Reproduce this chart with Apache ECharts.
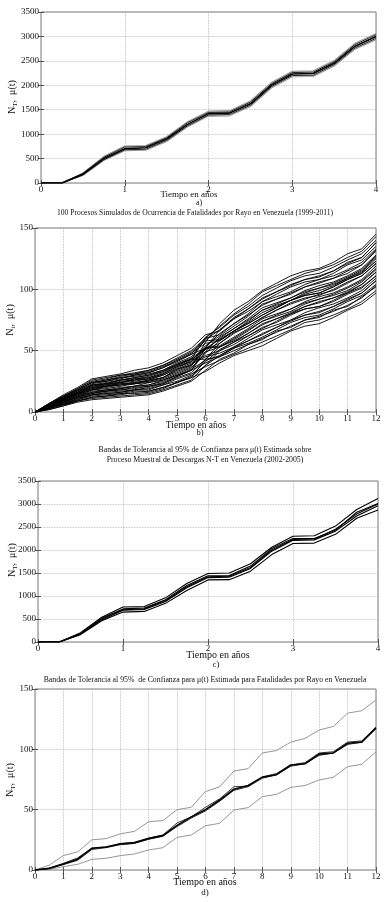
<!DOCTYPE html>
<html>
<head>
<meta charset="utf-8">
<script src="https://cdn.jsdelivr.net/npm/echarts@6/dist/echarts.min.js"></script>
<style>
html, body { margin: 0; padding: 0; background: #fff; }
#chart { width: 387px; height: 902px; }
</style>
</head>
<body>
<div id="chart"></div>
<script>
// tiempo (años) para a) y c): cada 0.25
var tQuarter = [0, 0.25, 0.5, 0.75, 1, 1.25, 1.5, 1.75, 2, 2.25, 2.5, 2.75, 3, 3.25, 3.5, 3.75, 4];
// tiempo (años) para b) y d): cada 0.5
var tHalf = [0, 0.5, 1, 1.5, 2, 2.5, 3, 3.5, 4, 4.5, 5, 5.5, 6, 6.5, 7, 7.5, 8, 8.5, 9, 9.5, 10, 10.5, 11, 11.5, 12];

// a) descargas N-T
var aMean = [0, 0, 180, 500, 700, 720, 900, 1200, 1420, 1430, 1620, 2000, 2230, 2240, 2450, 2800, 3000];
var aHi1  = [0, 0, 195, 525, 735, 745, 925, 1235, 1445, 1455, 1655, 2030, 2260, 2270, 2480, 2835, 3035];
var aLo1  = [0, 0, 165, 475, 680, 690, 870, 1170, 1390, 1400, 1590, 1970, 2200, 2205, 2420, 2765, 2960];
var aHi2  = [0, 0, 205, 545, 755, 765, 945, 1255, 1470, 1480, 1680, 2055, 2285, 2295, 2505, 2860, 3060];
var aLo2  = [0, 0, 155, 460, 660, 670, 850, 1150, 1370, 1375, 1565, 1945, 2175, 2180, 2395, 2740, 2935];

// b) procesos simulados de fatalidades
var simRuns = [
  [0, 2, 5, 8, 10, 11, 12, 13, 14, 17, 21, 25, 34, 43, 48, 55, 59, 66, 69, 75, 77, 83, 86, 94, 102],
  [0, 3, 6, 9, 12, 13, 15, 15, 16, 19, 24, 28, 33, 40, 46, 50, 54, 60, 66, 70, 72, 77, 83, 88, 97],
  [0, 3, 7, 10, 14, 15, 16, 18, 18, 22, 25, 30, 41, 51, 57, 64, 72, 76, 80, 86, 90, 93, 97, 104, 114],
  [0, 4, 8, 12, 15, 17, 18, 19, 21, 23, 29, 34, 40, 45, 52, 56, 61, 67, 73, 77, 79, 84, 90, 95, 104],
  [0, 4, 9, 13, 17, 18, 19, 21, 24, 26, 31, 36, 48, 58, 66, 72, 79, 85, 91, 95, 97, 102, 108, 113, 123],
  [0, 5, 10, 14, 19, 21, 22, 24, 25, 28, 34, 39, 45, 48, 53, 60, 67, 71, 75, 81, 85, 88, 93, 99, 109],
  [0, 5, 10, 15, 20, 22, 25, 26, 27, 31, 37, 41, 54, 62, 70, 78, 88, 92, 96, 102, 106, 109, 113, 120, 131],
  [0, 6, 11, 16, 22, 23, 26, 28, 30, 33, 39, 44, 52, 54, 61, 68, 76, 80, 84, 90, 94, 97, 102, 108, 119],
  [0, 6, 12, 18, 24, 25, 27, 30, 32, 36, 41, 47, 61, 69, 79, 86, 95, 101, 107, 111, 113, 118, 124, 129, 140],
  [0, 7, 13, 19, 25, 27, 30, 31, 34, 38, 43, 49, 58, 59, 66, 74, 83, 87, 91, 97, 101, 104, 109, 115, 126],
  [0, 7, 14, 20, 27, 29, 31, 34, 36, 40, 46, 52, 63, 66, 76, 82, 90, 96, 102, 106, 108, 113, 120, 124, 135],
  [0, 4, 9, 13, 18, 19, 21, 23, 24, 27, 32, 37, 57, 72, 83, 90, 99, 105, 111, 115, 117, 122, 129, 133, 145],
  [0, 5, 10, 15, 19, 21, 23, 24, 26, 30, 35, 40, 46, 50, 57, 62, 68, 74, 80, 84, 86, 91, 97, 102, 111],
  [0, 4, 8, 12, 16, 17, 19, 21, 22, 25, 30, 34, 49, 61, 68, 76, 85, 89, 93, 99, 103, 106, 111, 117, 128],
  [0, 5, 11, 16, 21, 23, 24, 27, 28, 32, 38, 43, 51, 56, 65, 70, 77, 83, 89, 93, 95, 100, 106, 111, 121],
  [0, 3, 7, 11, 14, 16, 17, 18, 20, 23, 28, 32, 43, 53, 59, 66, 74, 78, 82, 88, 92, 95, 99, 106, 116],
  [0, 6, 12, 17, 23, 25, 28, 29, 31, 34, 40, 45, 59, 67, 77, 84, 92, 98, 104, 108, 110, 115, 122, 126, 138],
  [0, 3, 6, 10, 13, 14, 15, 17, 17, 20, 24, 29, 38, 46, 53, 58, 63, 69, 75, 79, 81, 86, 92, 97, 107],
  [0, 4, 10, 15, 18, 21, 23, 23, 26, 28, 35, 38, 53, 64, 72, 80, 90, 94, 98, 104, 108, 111, 116, 122, 133],
  [0, 6, 13, 18, 24, 26, 29, 31, 33, 37, 42, 48, 56, 58, 66, 72, 79, 85, 91, 95, 97, 102, 108, 113, 123],
  [0, 2, 5, 9, 11, 12, 13, 14, 15, 18, 22, 26, 38, 50, 55, 62, 69, 73, 79, 84, 86, 90, 96, 101, 111],
  [0, 3, 6, 9, 12, 13, 14, 16, 17, 20, 24, 28, 43, 56, 64, 70, 77, 83, 88, 92, 96, 99, 105, 111, 121],
  [0, 3, 7, 11, 14, 15, 16, 18, 19, 22, 27, 31, 37, 42, 47, 52, 57, 62, 67, 73, 75, 79, 84, 90, 99],
  [0, 4, 8, 12, 15, 17, 18, 20, 21, 24, 29, 34, 52, 67, 76, 84, 93, 98, 103, 108, 111, 115, 121, 126, 138],
  [0, 4, 8, 13, 16, 18, 20, 21, 22, 26, 30, 35, 42, 46, 52, 58, 64, 69, 74, 79, 82, 86, 91, 97, 107],
  [0, 4, 9, 14, 18, 20, 22, 23, 25, 28, 33, 38, 51, 60, 68, 75, 83, 88, 93, 98, 101, 105, 110, 116, 127],
  [0, 5, 10, 15, 20, 21, 24, 25, 27, 30, 36, 41, 49, 53, 60, 67, 74, 79, 84, 89, 92, 96, 101, 107, 117],
  [0, 5, 11, 16, 22, 23, 26, 27, 29, 33, 38, 43, 60, 70, 80, 88, 98, 103, 108, 113, 116, 120, 126, 131, 143],
  [0, 6, 11, 17, 22, 24, 26, 28, 30, 34, 39, 43, 43, 45, 50, 55, 60, 65, 70, 75, 78, 82, 87, 93, 103],
  [0, 6, 12, 18, 24, 26, 28, 30, 32, 36, 42, 47, 52, 53, 58, 64, 71, 76, 81, 86, 89, 93, 98, 104, 114],
  [0, 7, 13, 19, 26, 28, 30, 32, 34, 38, 44, 50, 60, 63, 72, 79, 87, 92, 97, 102, 105, 109, 115, 120, 132],
  [0, 5, 11, 15, 21, 22, 24, 26, 28, 31, 37, 42, 52, 59, 66, 73, 81, 86, 91, 96, 99, 103, 109, 114, 125]
];

// c) bandas de tolerancia para descargas N-T
var cUpper = [0, 0, 200, 540, 760, 770, 960, 1270, 1490, 1500, 1700, 2060, 2300, 2310, 2520, 2880, 3120];
var cEmp   = [0, 0, 170, 520, 720, 740, 920, 1230, 1440, 1445, 1650, 2030, 2250, 2250, 2430, 2820, 3010];
var cMean  = [0, 0, 180, 500, 700, 720, 900, 1200, 1420, 1430, 1620, 2000, 2230, 2240, 2450, 2780, 3000];
var cMid   = [0, 0, 175, 480, 690, 705, 880, 1180, 1400, 1410, 1600, 1975, 2210, 2220, 2410, 2740, 2960];
var cLower = [0, 0, 160, 460, 650, 665, 840, 1120, 1350, 1355, 1540, 1900, 2140, 2150, 2340, 2690, 2870];

// d) bandas de tolerancia para fatalidades
var dUpper = [0, 4, 12, 15, 25, 26, 30, 32, 40, 41, 50, 52, 65, 69, 82, 84, 97, 99, 106, 109, 116, 119, 130, 132, 141];
var dMean  = [0, 1.5, 5, 9, 18, 19, 21.5, 22.5, 26, 28.5, 37, 44, 50, 58, 67, 70, 77, 79, 87, 88, 96, 97, 105, 106, 118];
var dEmp   = [0, 1.5, 5.5, 10, 18, 19, 22, 23, 26.5, 29, 39, 44, 52, 59, 69, 69.5, 77, 80, 87, 89, 97, 98, 106, 107, 118];
var dEmp2  = [0, 1, 4.5, 8, 17, 18.5, 21, 22, 25.5, 28, 36, 43, 49, 57, 66, 69, 76, 79, 86, 88, 95, 97, 104, 106, 117];
var dLower = [0, 0.5, 2.8, 4.7, 8.8, 9.7, 11.9, 13.3, 16.6, 18.5, 27, 29, 36.7, 38.7, 49.7, 51.7, 60.8, 62.7, 68.5, 70, 74.6, 76.8, 85.6, 87.6, 98];

var F = '"Liberation Serif", "DejaVu Serif", serif';

function pts(t, v) {
  return t.map(function (x, i) { return [x, v[i]]; });
}

function line(gi, t, v, color, width) {
  return {
    type: 'line', xAxisIndex: gi * 2, yAxisIndex: gi * 2,
    data: pts(t, v), symbol: 'none', silent: true,
    lineStyle: { color: color, width: width }
  };
}

var grids = [
  { left: 41, right: 11, top: 12, height: 171 },
  { left: 35, right: 11, top: 228, height: 184 },
  { left: 38, right: 9, top: 481, height: 161 },
  { left: 35, right: 11, top: 689, height: 181 }
];
grids.forEach(function (g) {
  g.show = true;
  g.borderColor = '#7a7a7a';
  g.borderWidth = 1;
  g.backgroundColor = '#fff';
});

var xMax = [4, 12, 4, 12];
var yMax = [3500, 150, 3500, 150];
var yStep = [500, 50, 500, 50];

var xAxes = [], yAxes = [];
for (var i = 0; i < 4; i++) {
  xAxes.push({
    type: 'value', gridIndex: i, min: 0, max: xMax[i], interval: 1,
    axisLine: { show: false },
    axisTick: { inside: true, length: 3, lineStyle: { color: '#555' } },
    axisLabel: { fontFamily: F, fontSize: 9, color: '#111', margin: 2 },
    splitLine: { show: true, lineStyle: { type: 'dotted', color: '#b0b0b0', width: 0.8 } }
  });
  xAxes.push({
    type: 'value', gridIndex: i, min: 0, max: xMax[i], interval: 1, position: 'top',
    axisLine: { show: false },
    axisTick: { inside: true, length: 3, lineStyle: { color: '#555' } },
    axisLabel: { show: false }, splitLine: { show: false }
  });
  yAxes.push({
    type: 'value', gridIndex: i, min: 0, max: yMax[i], interval: yStep[i],
    axisLine: { show: false },
    axisTick: { show: true, inside: true, length: 3, lineStyle: { color: '#555' } },
    axisLabel: {
      fontFamily: F, fontSize: 9, color: '#111', margin: 2,
      formatter: function (v) { return String(v); }
    },
    splitLine: { show: true, lineStyle: { type: 'dotted', color: '#b0b0b0', width: 0.8 } }
  });
  yAxes.push({
    type: 'value', gridIndex: i, min: 0, max: yMax[i], interval: yStep[i], position: 'right',
    axisLine: { show: false },
    axisTick: { show: true, inside: true, length: 3, lineStyle: { color: '#555' } },
    axisLabel: { show: false }, splitLine: { show: false }
  });
}

var series = [];
// a)
series.push(line(0, tQuarter, aHi2, '#9a9a9a', 1.2));
series.push(line(0, tQuarter, aLo2, '#9a9a9a', 1.2));
series.push(line(0, tQuarter, aHi1, '#222', 1));
series.push(line(0, tQuarter, aLo1, '#222', 1));
series.push(line(0, tQuarter, aMean, '#000', 1.6));
// b)
simRuns.forEach(function (r) { series.push(line(1, tHalf, r, '#000', 0.9)); });
// c)
[cUpper, cEmp, cMean, cMid, cLower].forEach(function (r) { series.push(line(2, tQuarter, r, '#000', 1.1)); });
// d)
series.push(line(3, tHalf, dUpper, '#8a8a8a', 0.9));
series.push(line(3, tHalf, dLower, '#8a8a8a', 0.9));
series.push(line(3, tHalf, dEmp, '#000', 0.8));
series.push(line(3, tHalf, dEmp2, '#000', 0.8));
series.push(line(3, tHalf, dMean, '#000', 1.6));

function txt(x, y, s, size) {
  return {
    type: 'text', x: x, y: y,
    style: { text: s, fontFamily: F, fontSize: size, fill: '#111', align: 'center', verticalAlign: 'middle' }
  };
}
function ylab(x, y, sub) {
  return {
    type: 'text', x: x, y: y, rotation: Math.PI / 2,
    style: {
      text: '{n|N}{s|' + sub + '}{n|,  \u03bc(t)}',
      fontFamily: F, align: 'center', verticalAlign: 'middle', fill: '#111',
      rich: {
        n: { fontFamily: F, fontSize: 10, fill: '#111' },
        s: { fontFamily: F, fontSize: 7, fill: '#111', padding: [6, 0, 0, 0] }
      }
    }
  };
}

var graphics = [
  txt(189, 195, 'Tiempo en a\u00f1os', 9),
  txt(199, 203, 'a)', 8),
  txt(195, 213, '100 Procesos Simulados de Ocurrencia de Fatalidades por Rayo en Venezuela (1999-2011)', 7.6),
  txt(196, 425, 'Tiempo en a\u00f1os', 9.5),
  txt(200, 433, 'b)', 8.5),
  txt(205, 450, 'Bandas de Tolerancia al 95% de Confianza para \u03bc(t) Estimada sobre', 7.8),
  txt(205, 460, 'Proceso Muestral de Descargas N-T en Venezuela (2002-2005)', 7.8),
  txt(218, 655, 'Tiempo en a\u00f1os', 10),
  txt(216, 665, 'c)', 9),
  txt(205, 680, 'Bandas de Tolerancia al 95%  de Confianza para \u03bc(t) Estimada para Fatalidades por Rayo en Venezuela', 7.8),
  txt(205, 882, 'Tiempo en a\u00f1os', 10),
  txt(205, 893, 'd)', 9),
  ylab(12, 97, 'T'),
  ylab(10, 320, 't'),
  ylab(12, 560, 'T'),
  ylab(10, 780, 'T')
];

var chart = echarts.init(document.getElementById('chart'), null, { renderer: 'canvas' });
chart.setOption({
  animation: false,
  backgroundColor: '#fff',
  grid: grids,
  xAxis: xAxes,
  yAxis: yAxes,
  series: series,
  graphic: graphics
});
</script>
</body>
</html>
